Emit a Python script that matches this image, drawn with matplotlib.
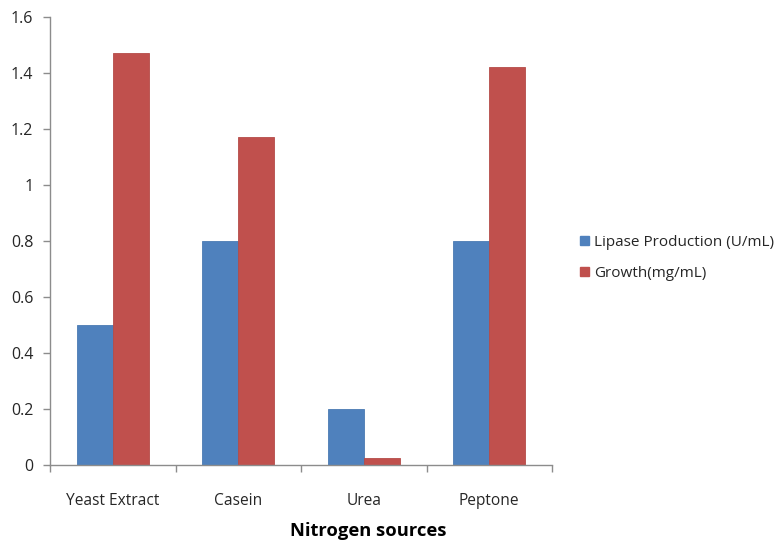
import numpy as np
import matplotlib.pyplot as plt
from matplotlib.patches import Patch

categories = ["Yeast Extract", "Casein", "Urea", "Peptone"]
lipase = [0.50, 0.80, 0.20, 0.80]
growth = [1.47, 1.17, 0.025, 1.42]
series_names = ["Lipase Production (U/mL)", "Growth(mg/mL)"]
yticks = [0, 0.2, 0.4, 0.6, 0.8, 1, 1.2, 1.4, 1.6]
ytick_labels = ["0", "0.2", "0.4", "0.6", "0.8", "1", "1.2", "1.4", "1.6"]

BLUE = "#4f81bd"
RED = "#c0504d"
AXCOL = "#8c8c8c"
TXT = "#262626"

plt.rcParams["font.family"] = ["Open Sans", "DejaVu Sans"]

fig = plt.figure(figsize=(7.84, 5.45), dpi=100)
ax = fig.add_axes([50 / 784, 80 / 545, 502 / 784, 448 / 545])

x = np.arange(len(categories))
w = 0.287
ax.bar(x - w / 2, lipase, w, color=BLUE, edgecolor="#4a7ab3", lw=0.6)
ax.bar(x + w / 2, growth, w, color=RED, edgecolor="#b54b48", lw=0.6)

ax.set_xlim(-0.5, len(categories) - 0.5)
ax.set_ylim(0, 1.6)
ax.set_yticks(yticks)
ax.set_yticklabels(ytick_labels)
ax.set_xticks(x)
ax.set_xticklabels(categories)
ax.set_xticks(np.arange(len(categories) + 1) - 0.5, minor=True)
ax.tick_params(axis="x", which="major", length=0, pad=20, labelsize=11.2, labelcolor=TXT)
ax.tick_params(axis="x", which="minor", length=5, color=AXCOL, width=1)
ax.tick_params(axis="y", length=5, color=AXCOL, width=1, pad=7, labelsize=11.5, labelcolor=TXT)

for s in ["top", "right"]:
    ax.spines[s].set_visible(False)
for s in ["left", "bottom"]:
    ax.spines[s].set_color(AXCOL)
    ax.spines[s].set_linewidth(1)

fig.text(368 / 784, 1 - 531 / 545, "Nitrogen sources", ha="center", va="center",
         fontsize=13.2, fontweight="bold", color="black")

handles = [Patch(color=BLUE), Patch(color=RED)]
fig.legend(handles, series_names, loc="center left", bbox_to_anchor=(566 / 784, 1 - 258 / 545),
           frameon=False, fontsize=11, handlelength=0.6, handleheight=0.6,
           handletextpad=0.35, labelspacing=1.05, labelcolor=TXT)

fig.savefig("out.png", dpi=100)
